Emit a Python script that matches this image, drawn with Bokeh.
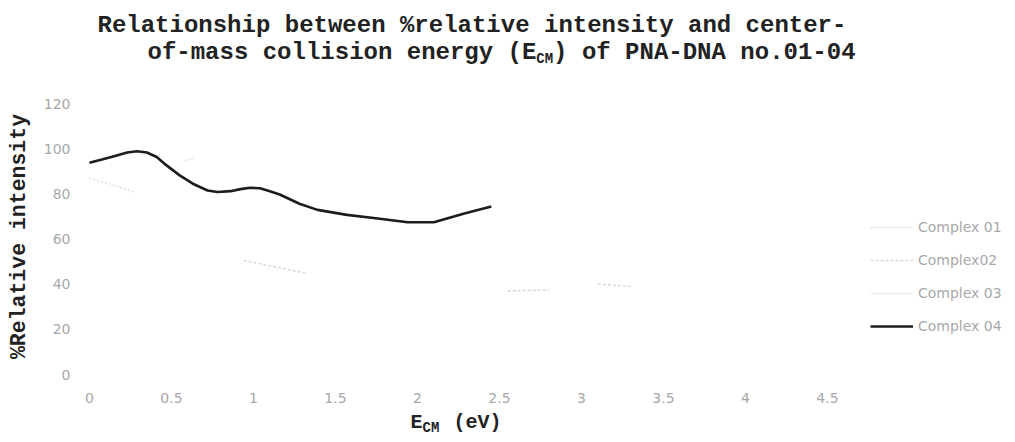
import math
from bokeh.plotting import figure
from bokeh.models import Label, Legend, LegendItem
from bokeh.core.properties import value
from bokeh.embed import file_html
from bokeh.resources import INLINE

nan = math.nan

# ---- data ----
energy_04 = [0.00, 0.07, 0.15, 0.23, 0.29, 0.35, 0.41, 0.47, 0.55, 0.63, 0.72, 0.78, 0.86,
             0.92, 0.98, 1.04, 1.10, 1.16, 1.28, 1.39, 1.57, 1.77, 1.94, 2.10, 2.28, 2.45]
intensity_04 = [93.8, 95.1, 96.7, 98.3, 98.9, 98.3, 96.3, 92.6, 88.2, 84.5, 81.5, 80.8, 81.2,
                82.1, 82.7, 82.5, 81.2, 79.7, 75.6, 72.9, 70.7, 69.0, 67.4, 67.4, 71.2, 74.4]

energy_01 = [0.00, 0.14, 0.28]
intensity_01 = [86.8, 84.0, 80.6]

energy_02 = [0.94, 1.33, nan, 2.55, 2.80, nan, 3.10, 3.30]
intensity_02 = [50.5, 44.7, nan, 37.0, 37.5, nan, 40.0, 39.0]

energy_03 = [0.57, 0.64]
intensity_03 = [94.5, 96.0]

series_names = ["Complex 01", "Complex02", "Complex 03", "Complex 04"]

x_ticks = [0, 0.5, 1, 1.5, 2, 2.5, 3, 3.5, 4, 4.5]
x_tick_labels = ["0", "0.5", "1", "1.5", "2", "2.5", "3", "3.5", "4", "4.5"]
y_ticks = [0, 20, 40, 60, 80, 100, 120]
y_tick_labels = ["0", "20", "40", "60", "80", "100", "120"]

title_line1 = "Relationship between %relative intensity and center-"
title_line2a = "of-mass collision energy (E"
title_line2b = "CM"
title_line2c = ") of PNA-DNA no.01-04"
y_title = "%Relative intensity"
x_title_a = "E"
x_title_b = "CM"
x_title_c = "(eV)"

# ---- layout (pixels) ----
W, H = 1015, 442
X0_PX, X_PER_UNIT = 89, 164.0      # canvas x of energy 0, px per eV
Y0_PX, Y_PER_UNIT = 374, 2.258     # canvas y of intensity 0, px per %

x_start = -X0_PX / X_PER_UNIT
x_end = (W - X0_PX) / X_PER_UNIT
y_start = -(H - Y0_PX) / Y_PER_UNIT
y_end = Y0_PX / Y_PER_UNIT

p = figure(width=W, height=H, output_backend="svg", toolbar_location=None,
           x_range=(x_start, x_end), y_range=(y_start, y_end), min_border=0)
p.outline_line_color = None
p.xaxis.visible = False
p.yaxis.visible = False
p.xgrid.grid_line_color = None
p.ygrid.grid_line_color = None
p.background_fill_color = "white"
p.border_fill_color = "white"

r1 = p.line(energy_01, intensity_01, line_color="#e2e2e2", line_width=1.5, line_dash="2 2")
r2 = p.line(energy_02, intensity_02, line_color="#d8d8d8", line_width=1.5, line_dash="3 2")
r3 = p.line(energy_03, intensity_03, line_color="#ededed", line_width=1.5)
r4 = p.line(energy_04, intensity_04, line_color="#1c1c1c", line_width=2.6)

tick_font = "DejaVu Sans"
tick_color = "#a8a8a8"

x_lab_y = (Y0_PX - 397) / Y_PER_UNIT
p.text(x=x_ticks, y=[x_lab_y] * len(x_ticks), text=x_tick_labels,
       text_align="center", text_baseline="middle", text_font=value(tick_font),
       text_font_size="14px", text_color=tick_color)
y_lab_x = (70 - X0_PX) / X_PER_UNIT
p.text(x=[y_lab_x] * len(y_ticks), y=y_ticks, text=y_tick_labels,
       text_align="right", text_baseline="middle", text_font=value(tick_font),
       text_font_size="14px", text_color=tick_color)

legend = Legend(items=[LegendItem(label=n, renderers=[r]) for n, r in
                       zip(series_names, [r1, r2, r3, r4])],
                location=(870, H - 336))
legend.border_line_color = None
legend.background_fill_alpha = 0
legend.padding = 0
legend.margin = 0
legend.spacing = 13
legend.glyph_width = 43
legend.glyph_height = 20
legend.label_height = 20
legend.label_standoff = 5
legend.label_text_font = tick_font
legend.label_text_font_size = "14px"
legend.label_text_color = tick_color
p.add_layout(legend, "center")

mono = "Liberation Mono"

def lab(text, cx, cy, size, align="left", angle=0, color="#222222", bold=True, font=mono):
    p.add_layout(Label(x=cx, y=H - cy, x_units="screen", y_units="screen", text=text,
                       text_align=align, text_baseline="middle", angle=angle,
                       text_font=font, text_font_size=f"{size}px",
                       text_font_style="bold" if bold else "normal", text_color=color))

ts = 24
cw = 0.6 * ts
sub = 14
lab(title_line1, 97, 25, ts)
x0 = 147
lab(title_line2a, x0, 52, ts)
x1 = x0 + cw * len(title_line2a)
lab(title_line2b, x1, 58, sub)
x2 = x1 + 0.6 * sub * len(title_line2b)
lab(title_line2c, x2, 52, ts)

lab(y_title, 18, 236, 21.5, align="center", angle=math.pi / 2)

lab(x_title_a, 410, 422, 20)
lab(x_title_b, 422, 427, 14)
lab(x_title_c, 453, 422, 20)

open("out.html", "w").write(file_html(p, INLINE))
